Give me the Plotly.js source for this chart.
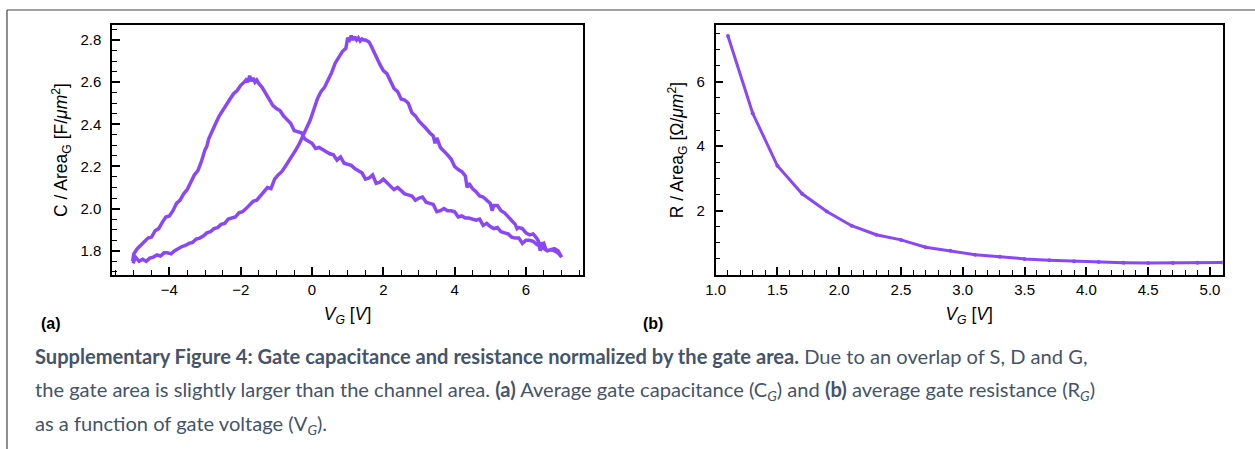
<!DOCTYPE html>
<html>
<head>
<meta charset="utf-8">
<script src="https://cdn.plot.ly/plotly-3.0.1.min.js"></script>
<style>
html,body{margin:0;padding:0;background:#fff;}
#chart{width:1255px;height:449px;}
</style>
</head>
<body>
<div id="chart"></div>
<script>
// ---------- Panel (a): gate capacitance loop ----------
const vgForward = [-5.02,-4.95,-4.85,-4.75,-4.65,-4.55,-4.45,-4.35,-4.25,-4.15,-4.05,-3.95,-3.85,-3.75,-3.65,-3.55,-3.45,-3.35,-3.25,-3.15,-3.05,-2.95,-2.85,-2.75,-2.65,-2.55,-2.45,-2.35,-2.25,-2.15,-2.05,-1.95,-1.85,-1.75,-1.65,-1.55,-1.45,-1.35,-1.25,-1.15,-1.05,-0.95,-0.85,-0.75,-0.65,-0.55,-0.45,-0.35,-0.25,-0.15,-0.05,0.05,0.15,0.25,0.35,0.45,0.55,0.65,0.75,0.85,0.95,1.0,1.05,1.1,1.15,1.2,1.25,1.3,1.35,1.4,1.45,1.5,1.55,1.6,1.65,1.7,1.8,1.9,2.0,2.1,2.2,2.3,2.4,2.5,2.6,2.7,2.8,2.9,3.0,3.1,3.2,3.3,3.4,3.45,3.5,3.6,3.7,3.8,3.9,4.0,4.1,4.2,4.3,4.35,4.4,4.5,4.6,4.7,4.8,4.9,5.0,5.05,5.1,5.2,5.3,5.4,5.5,5.6,5.7,5.75,5.8,5.9,6.0,6.1,6.2,6.3,6.35,6.4,6.45,6.5,6.55,6.6,6.7,6.8,6.9,7.0];
const cForward = [1.74,1.77,1.75,1.76,1.75,1.765,1.77,1.78,1.775,1.79,1.79,1.785,1.80,1.81,1.82,1.825,1.835,1.84,1.855,1.86,1.87,1.885,1.89,1.905,1.91,1.925,1.93,1.95,1.955,1.96,1.98,1.985,2.0,2.02,2.035,2.04,2.06,2.075,2.10,2.095,2.14,2.16,2.175,2.20,2.225,2.25,2.28,2.31,2.345,2.385,2.42,2.47,2.52,2.555,2.575,2.61,2.645,2.69,2.72,2.745,2.76,2.81,2.80,2.82,2.80,2.815,2.80,2.81,2.795,2.805,2.80,2.80,2.795,2.79,2.775,2.755,2.72,2.685,2.655,2.64,2.605,2.57,2.555,2.52,2.515,2.50,2.455,2.44,2.415,2.40,2.38,2.36,2.345,2.31,2.335,2.29,2.275,2.255,2.235,2.20,2.185,2.175,2.155,2.10,2.12,2.095,2.08,2.06,2.055,2.04,2.025,1.99,2.015,2.015,1.99,1.98,1.96,1.945,1.925,1.905,1.91,1.905,1.885,1.875,1.88,1.86,1.845,1.80,1.83,1.835,1.81,1.80,1.805,1.81,1.80,1.77];
const vgReverse = [6.9,6.8,6.7,6.6,6.5,6.45,6.4,6.3,6.2,6.1,6.0,5.9,5.8,5.7,5.6,5.5,5.4,5.3,5.2,5.1,5.0,4.9,4.8,4.7,4.6,4.5,4.4,4.3,4.2,4.1,4.0,3.9,3.8,3.7,3.6,3.5,3.4,3.3,3.2,3.1,3.0,2.9,2.8,2.7,2.6,2.5,2.4,2.3,2.2,2.1,2.0,1.9,1.8,1.7,1.6,1.5,1.4,1.3,1.2,1.1,1.0,0.9,0.8,0.7,0.6,0.5,0.4,0.3,0.2,0.1,0.0,-0.1,-0.2,-0.3,-0.4,-0.5,-0.6,-0.7,-0.8,-0.9,-1.0,-1.1,-1.2,-1.3,-1.4,-1.5,-1.55,-1.6,-1.65,-1.7,-1.75,-1.8,-1.85,-1.9,-2.0,-2.1,-2.2,-2.3,-2.4,-2.5,-2.6,-2.7,-2.8,-2.9,-2.95,-3.0,-3.1,-3.2,-3.3,-3.4,-3.5,-3.6,-3.7,-3.8,-3.9,-4.0,-4.1,-4.2,-4.3,-4.4,-4.5,-4.6,-4.7,-4.8,-4.9,-5.0,-5.03];
const cReverse = [1.79,1.80,1.805,1.80,1.81,1.84,1.82,1.83,1.845,1.85,1.85,1.835,1.86,1.86,1.865,1.88,1.885,1.89,1.91,1.905,1.915,1.93,1.92,1.95,1.945,1.95,1.955,1.955,1.965,1.96,1.985,1.99,1.99,2.00,1.99,1.985,2.02,2.025,2.03,2.055,2.05,2.04,2.06,2.065,2.07,2.085,2.10,2.09,2.105,2.12,2.14,2.125,2.12,2.16,2.145,2.14,2.17,2.18,2.19,2.205,2.21,2.215,2.245,2.23,2.255,2.26,2.27,2.28,2.29,2.285,2.31,2.32,2.33,2.36,2.365,2.37,2.405,2.42,2.44,2.465,2.475,2.49,2.52,2.55,2.575,2.595,2.61,2.60,2.62,2.605,2.63,2.60,2.61,2.60,2.585,2.56,2.545,2.52,2.495,2.465,2.44,2.405,2.37,2.33,2.295,2.28,2.225,2.18,2.16,2.12,2.09,2.07,2.04,2.025,1.99,1.965,1.96,1.935,1.905,1.895,1.865,1.86,1.845,1.83,1.81,1.785,1.75];

// ---------- Panel (b): gate resistance ----------
const vgR = [1.1,1.3,1.5,1.7,1.9,2.1,2.3,2.5,2.7,2.9,3.1,3.3,3.5,3.7,3.9,4.1,4.3,4.5,4.7,4.9,5.1];
const rArea = [7.42,5.02,3.39,2.52,1.97,1.53,1.25,1.09,0.86,0.75,0.63,0.57,0.50,0.46,0.43,0.40,0.38,0.37,0.37,0.38,0.39];

// tick labels
const ticksA_x = [-4,-2,0,2,4,6];
const ticksA_y = [1.8,2.0,2.2,2.4,2.6,2.8];
const ticksB_x = [1.0,1.5,2.0,2.5,3.0,3.5,4.0,4.5,5.0];
const ticksB_y = [2,4,6];

const W = 1255, H = 449;
const px = v => v / W;
const py = v => 1 - v / H;

const purple = '#8a47f6';
const SANS = 'Liberation Sans';
const tf = (size) => ({family: SANS, size: size, color: '#000000'});

const traces = [
  {x: vgForward.concat(vgReverse), y: cForward.concat(cReverse), xaxis: 'x', yaxis: 'y', mode: 'lines', type: 'scatter',
   line: {color: purple, width: 3.5}, hoverinfo: 'skip', showlegend: false},
  {x: vgR, y: rArea, xaxis: 'x2', yaxis: 'y2', mode: 'lines+markers', type: 'scatter',
   line: {color: purple, width: 3}, marker: {color: purple, size: 4}, showlegend: false}
];

function axisBase(extra) {
  return Object.assign({
    showgrid: false, zeroline: false, showline: true, linecolor: '#000', linewidth: 1.5,
    mirror: true, ticks: 'inside', ticklen: 8, tickwidth: 1.5, tickcolor: '#000',
    tickfont: tf(15)
  }, extra);
}

const layout = {
  width: W, height: H,
  margin: {l: 0, r: 0, t: 0, b: 0},
  paper_bgcolor: '#fff', plot_bgcolor: '#fff',
  font: {family: SANS, size: 15, color: '#000'},
  showlegend: false,
  xaxis: axisBase({
    domain: [px(112), px(583)], anchor: 'y', range: [-5.61, 7.6],
    tickvals: ticksA_x, ticktext: ticksA_x.map(v => v < 0 ? '\u2212' + Math.abs(v) : String(v)),
    minor: {dtick: 0.5, tick0: 0, ticks: 'inside', ticklen: 5, tickwidth: 1.2, tickcolor: '#000'},
    title: {text: '<i>V<sub>G</sub></i> [<i>V</i>]', font: tf(17.5), standoff: 11}
  }),
  yaxis: axisBase({
    domain: [py(275), py(25)], anchor: 'x', range: [1.685, 2.871],
    tickvals: ticksA_y, ticktext: ticksA_y.map(v => v.toFixed(1)), ticklabelstandoff: 6,
    minor: {dtick: 0.05, tick0: 0, ticks: 'inside', ticklen: 5, tickwidth: 1.2, tickcolor: '#000'},
    title: {text: 'C / Area<sub>G</sub> [F/<i>μm</i><sup>2</sup>]', font: tf(17.5), standoff: 8}
  }),
  xaxis2: axisBase({
    domain: [px(715.6), px(1222.7)], anchor: 'y2', range: [1.0, 5.103],
    tickvals: ticksB_x, ticktext: ticksB_x.map(v => v.toFixed(1)),
    minor: {dtick: 0.1, tick0: 0, ticks: 'inside', ticklen: 5, tickwidth: 1.2, tickcolor: '#000'},
    title: {text: '<i>V<sub>G</sub></i> [<i>V</i>]', font: tf(17.5), standoff: 11}
  }),
  yaxis2: axisBase({
    domain: [py(275), py(25)], anchor: 'x2', range: [0.0, 7.76],
    tickvals: ticksB_y, ticktext: ticksB_y.map(String), ticklabelstandoff: 6,
    minor: {dtick: 0.5, tick0: 0, ticks: 'inside', ticklen: 5, tickwidth: 1.2, tickcolor: '#000'},
    title: {text: 'R / Area<sub>G</sub> [Ω/<i>μm</i><sup>2</sup>]', font: tf(17.5), standoff: 8}
  }),
  shapes: [
    {type: 'line', xref: 'paper', yref: 'paper', x0: px(7), x1: 1, y0: py(10), y1: py(10), line: {color: '#444', width: 1.2}},
    {type: 'line', xref: 'paper', yref: 'paper', x0: px(7), x1: px(7), y0: py(10), y1: 0, line: {color: '#444', width: 1.2}}
  ],
  annotations: []
};

const capFont = () => ({family: 'Lato', size: 20.1, color: '#44546a'});
layout.annotations.push(
  {text: '<b>(a)</b>', xref: 'paper', yref: 'paper', x: px(39), y: py(323), xanchor: 'left', yanchor: 'middle', showarrow: false, font: tf(16)},
  {text: '<b>(b)</b>', xref: 'paper', yref: 'paper', x: px(641), y: py(323), xanchor: 'left', yanchor: 'middle', showarrow: false, font: tf(16)},
  {text: '<b>Supplementary Figure 4: Gate capacitance and resistance normalized by the gate area.</b> Due to an overlap of S, D and G,',
   xref: 'paper', yref: 'paper', x: px(33), y: py(356), xanchor: 'left', yanchor: 'middle', showarrow: false, font: capFont()},
  {text: 'the gate area is slightly larger than the channel area. <b>(a)</b> Average gate capacitance (C<sub><i>G</i></sub>) and <b>(b)</b> average gate resistance (R<sub><i>G</i></sub>)',
   xref: 'paper', yref: 'paper', x: px(33), y: py(390), xanchor: 'left', yanchor: 'middle', showarrow: false, font: capFont()},
  {text: 'as a function of gate voltage (V<sub><i>G</i></sub>).',
   xref: 'paper', yref: 'paper', x: px(33), y: py(424), xanchor: 'left', yanchor: 'middle', showarrow: false, font: capFont()}
);

Plotly.newPlot('chart', traces, layout, {displayModeBar: false});
</script>
</body>
</html>
